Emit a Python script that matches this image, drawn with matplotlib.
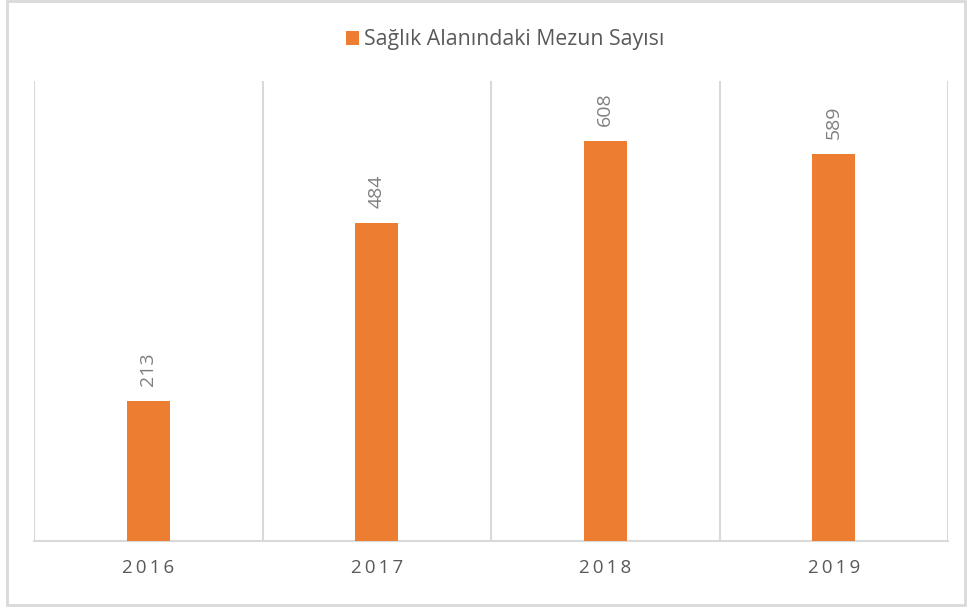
import matplotlib.pyplot as plt
from matplotlib.patches import Rectangle

years = ['2016', '2017', '2018', '2019']
mezun = [213, 484, 608, 589]
seri_adi = 'Sağlık Alanındaki Mezun Sayısı'

plt.rcParams['font.family'] = ['Open Sans', 'DejaVu Sans']

fig = plt.figure(figsize=(9.71, 6.10), dpi=100)
W, H = 971, 610

# dış çerçeve
fig.patches.append(Rectangle((7 / W, 5 / H), 958 / W, 604 / H, transform=fig.transFigure,
                             fill=False, edgecolor='#d9d9d9', linewidth=2))

ax = fig.add_axes([34 / W, (H - 541) / H, (948 - 34) / W, (541 - 81) / H])
x = range(len(years))
bars = ax.bar(x, mezun, width=0.19, color='#ed7d31', label=seri_adi, zorder=3)

ax.set_xlim(-0.5, len(years) - 0.5)
ax.set_ylim(0, 700)
ax.set_yticks([])
ax.set_xticks(list(x))
# harf aralıklı yıl etiketleri
ax.set_xticklabels(['\u2009'.join(y) for y in years], fontsize=13.5, color='#595959')
ax.tick_params(axis='x', length=0, pad=13)
for s in ['top', 'right', 'left']:
    ax.spines[s].set_visible(False)
ax.spines['bottom'].set_color('#d9d9d9')
ax.spines['bottom'].set_linewidth(1.5)

# kategori sınırları
for b in [i - 0.5 for i in range(len(years) + 1)]:
    ax.axvline(b, color='#d9d9d9', linewidth=1.5, zorder=1)

for xi, v in zip(x, mezun):
    ax.annotate(str(v), (xi, v), xytext=(0, 11), textcoords='offset points',
                rotation=90, ha='center', va='bottom', fontsize=14, color='#7f7f7f')

fig.legend(loc='center', bbox_to_anchor=(505 / W, 1 - 40 / H), frameon=False,
           fontsize=15.3, handlelength=0.6, handleheight=0.6, handletextpad=0.25,
           labelcolor='#595959')

fig.savefig('out.png', dpi=100)
